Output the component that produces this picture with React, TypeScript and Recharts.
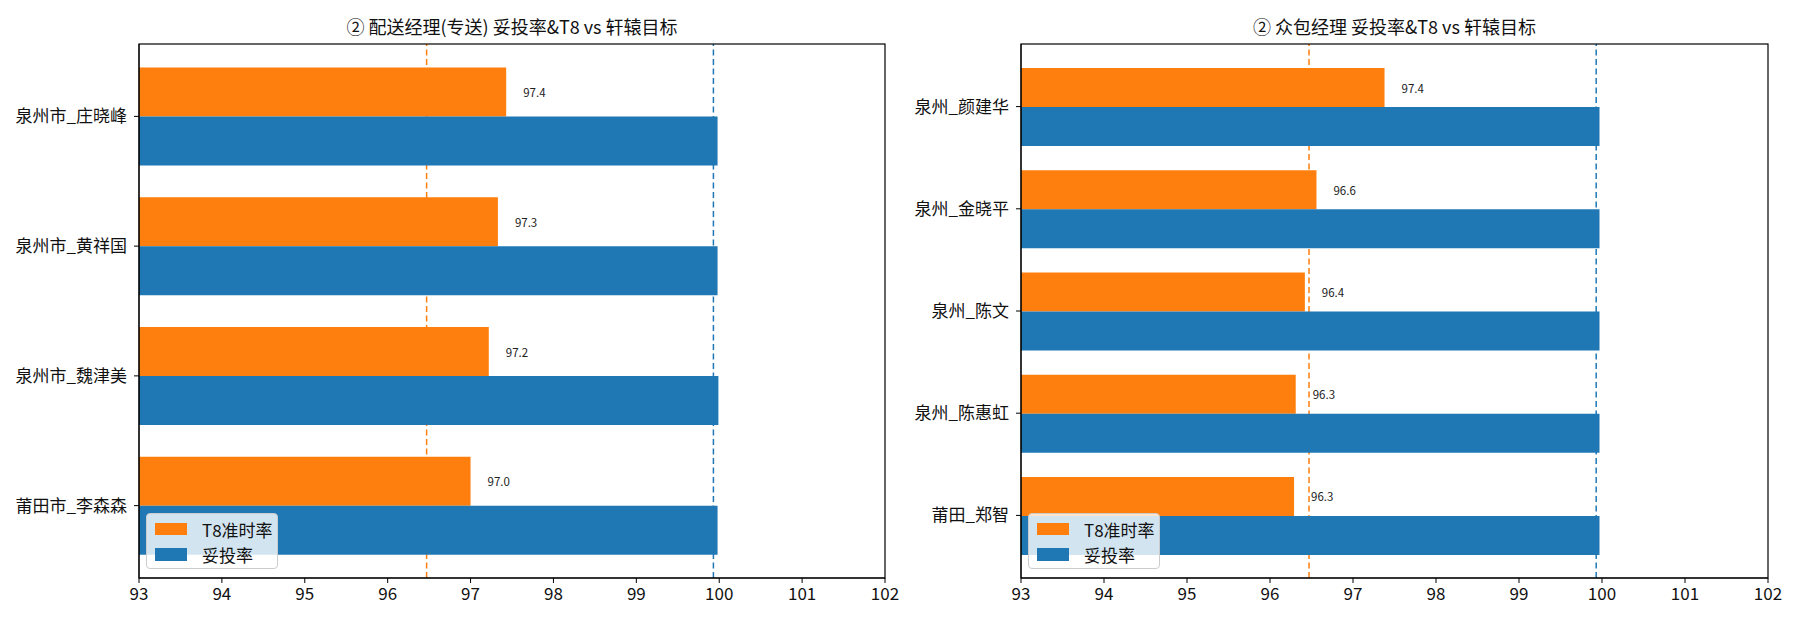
import React from "react";
import { Bar, BarChart, LabelList, ReferenceLine, XAxis, YAxis } from "recharts";

const ORANGE = "#ff7f0e";
const BLUE = "#1f77b4";
const FONT = "'Noto Sans CJK SC', 'DejaVu Sans', sans-serif";

// left panel: 配送经理(专送)
const zsNames = ["泉州市_庄晓峰", "泉州市_黄祥国", "泉州市_魏津美", "莆田市_李森森"];
const zsT8 = [97.43, 97.33, 97.22, 97.0];
const zsTuotou = [99.98, 99.98, 99.99, 99.98];

// right panel: 众包经理
const zbNames = ["泉州_颜建华", "泉州_金晓平", "泉州_陈文", "泉州_陈惠虹", "莆田_郑智"];
const zbT8 = [97.38, 96.56, 96.42, 96.31, 96.29];
const zbTuotou = [99.97, 99.97, 99.97, 99.97, 99.97];

// 轩辕目标
const t8Target = 96.47;
const tuotouTarget = 99.93;

const xTicks = [93, 94, 95, 96, 97, 98, 99, 100, 101, 102];

const W = 900;
const H = 624;
const TOP = 44;
const BOTTOM = 46; // below the plot: 30 axis + 16 margin

type PanelProps = {
  title: string;
  names: string[];
  t8: number[];
  tuotou: number[];
  left: number;
  yWidth: number;
  rightMargin: number;
  catPad: number;
  catGap: number;
};

function ValueLabel(props: any) {
  const { x, y, width, height, value } = props;
  return (
    <text x={x + width + 17} y={y + height / 2} fontSize={11.5} fontFamily={FONT} fill="#222" dominantBaseline="central">
      {Number(value).toFixed(1)}
    </text>
  );
}

function Panel({ title, names, t8, tuotou, left, yWidth, rightMargin, catPad, catGap }: PanelProps) {
  const data = names.map((n, i) => ({ name: n, t8: t8[i], tuotou: tuotou[i] }));
  const plotLeft = yWidth;
  const plotRight = W - rightMargin;
  const margin = { top: TOP, right: rightMargin, bottom: BOTTOM - 30, left: 0 };
  const layer: React.CSSProperties = { position: "absolute", left: 0, top: 0 };
  return (
    <div style={{ position: "absolute", left, top: 0, width: W, height: H }}>
      <div
        style={{
          position: "absolute",
          left: plotLeft,
          width: plotRight - plotLeft,
          top: 13,
          textAlign: "center",
          fontSize: 18,
          fontFamily: FONT,
          color: "#111",
          lineHeight: "26px",
        }}
      >
        {title}
      </div>
      {/* target lines sit behind the bars */}
      <div style={layer}>
        <BarChart width={W} height={H} data={data} layout="vertical" margin={margin}>
          <XAxis type="number" domain={[93, 102]} ticks={xTicks} allowDataOverflow height={30} tick={false} axisLine={false} tickLine={false} />
          <YAxis type="category" dataKey="name" width={yWidth} tick={false} axisLine={false} tickLine={false} />
          <ReferenceLine x={t8Target} stroke={ORANGE} strokeDasharray="6 3.5" strokeWidth={1.5} />
          <ReferenceLine x={tuotouTarget} stroke={BLUE} strokeDasharray="6 3.5" strokeWidth={1.5} />
        </BarChart>
      </div>
      <div style={layer}>
        <BarChart width={W} height={H} data={data} layout="vertical" margin={margin} barGap={0} barCategoryGap={catGap}>
          <XAxis
            type="number"
            domain={[93, 102]}
            ticks={xTicks}
            allowDataOverflow
            height={30}
            tickSize={5}
            tickMargin={5}
            stroke="#000"
            tick={{ fill: "#111", fontSize: 17, fontFamily: FONT }}
          />
          <YAxis
            type="category"
            dataKey="name"
            width={yWidth}
            tickSize={5}
            tickMargin={7}
            padding={{ top: catPad, bottom: catPad }}
            stroke="#000"
            tick={{ fill: "#111", fontSize: 17, fontFamily: FONT }}
          />
          <Bar dataKey="t8" fill={ORANGE} isAnimationActive={false}>
            <LabelList dataKey="t8" content={ValueLabel} />
          </Bar>
          <Bar dataKey="tuotou" fill={BLUE} isAnimationActive={false} />
        </BarChart>
      </div>
      <svg style={{ ...layer, pointerEvents: "none" }} width={W} height={H}>
        <rect x={plotLeft} y={TOP} width={plotRight - plotLeft} height={H - TOP - BOTTOM} fill="none" stroke="#000" strokeWidth={1.2} />
      </svg>
      <div
        style={{
          position: "absolute",
          left: plotLeft + 7,
          top: 513,
          width: 132,
          height: 56,
          boxSizing: "border-box",
          background: "rgba(255,255,255,0.8)",
          border: "1px solid #ccc",
          borderRadius: 4,
          fontFamily: FONT,
          fontSize: 17,
          color: "#111",
        }}
      >
        {[
          { c: ORANGE, t: "T8准时率" },
          { c: BLUE, t: "妥投率" },
        ].map((e, i) => (
          <div key={i} style={{ position: "absolute", left: 8, top: 3 + i * 25.5, height: 24, display: "flex", alignItems: "center" }}>
            <span style={{ display: "inline-block", width: 32, height: 12.5, background: e.c, marginRight: 15 }} />
            <span>{e.t}</span>
          </div>
        ))}
      </div>
    </div>
  );
}

export default function App() {
  return (
    <div style={{ position: "absolute", left: 0, top: 0, width: 1800, height: 624, background: "#fff" }}>
      <Panel
        title="② 配送经理(专送) 妥投率&T8 vs 轩辕目标"
        names={zsNames}
        t8={zsT8}
        tuotou={zsTuotou}
        left={0}
        yWidth={139}
        rightMargin={15}
        catPad={7.5}
        catGap={16}
      />
      <Panel
        title="② 众包经理 妥投率&T8 vs 轩辕目标"
        names={zbNames}
        t8={zbT8}
        tuotou={zbTuotou}
        left={900}
        yWidth={121}
        rightMargin={32}
        catPad={11.5}
        catGap={12.6}
      />
    </div>
  );
}
